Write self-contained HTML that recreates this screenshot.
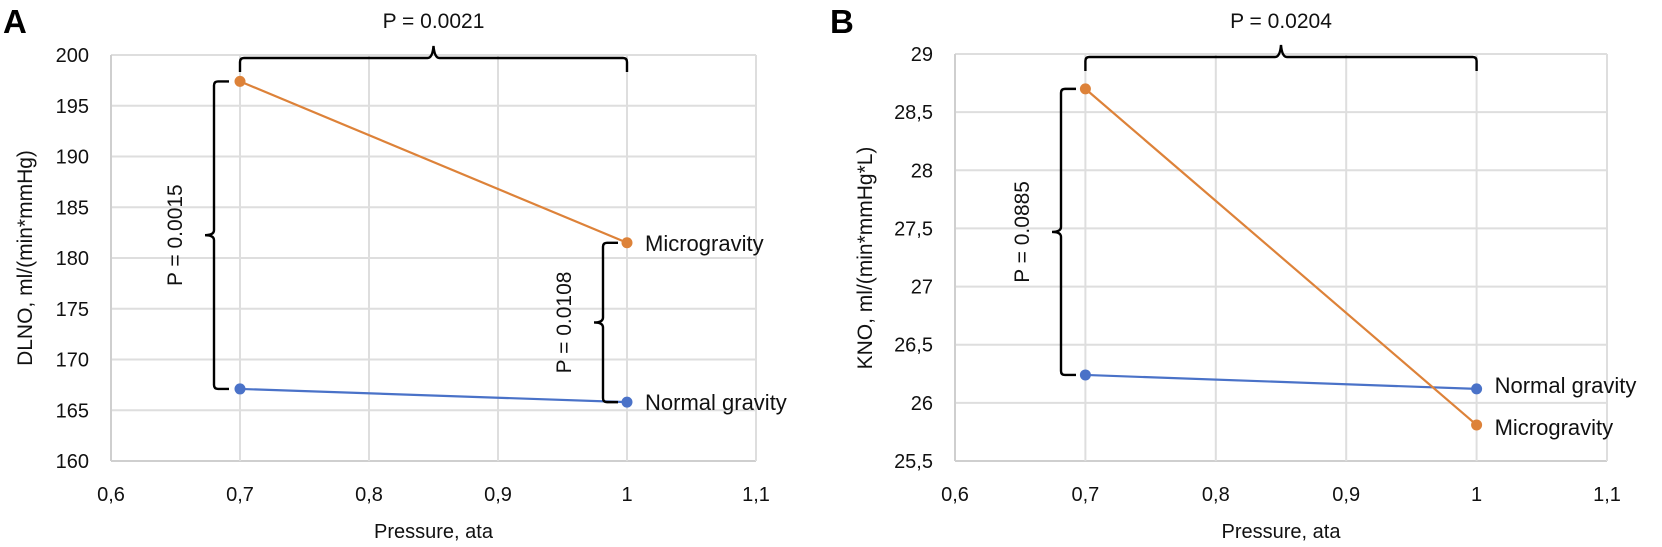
<!DOCTYPE html>
<html><head><meta charset="utf-8"><style>
html,body{margin:0;padding:0;background:#fff;}
svg{display:block;font-family:"Liberation Sans",sans-serif;}
</style></head><body>
<svg id="chart" width="1662" height="547" viewBox="0 0 1662 547" xmlns="http://www.w3.org/2000/svg">
<text x="3" y="33" font-size="33" font-weight="bold">A</text>
<text x="830" y="33" font-size="33" font-weight="bold">B</text>
<g id="pa"></g>
<g id="pb"></g>
</svg>
<script>
const xTicks = [0.6, 0.7, 0.8, 0.9, 1.0, 1.1];
const xTickLabels = ["0,6", "0,7", "0,8", "0,9", "1", "1,1"];
const pressures = [0.7, 1.0];
const aYTicks = [160, 165, 170, 175, 180, 185, 190, 195, 200];
const aYTickLabels = ["160", "165", "170", "175", "180", "185", "190", "195", "200"];
const aMicro = [197.4, 181.5];
const aNormal = [167.1, 165.8];
const bYTicks = [25.5, 26, 26.5, 27, 27.5, 28, 28.5, 29];
const bYTickLabels = ["25,5", "26", "26,5", "27", "27,5", "28", "28,5", "29"];
const bMicro = [28.70, 25.81];
const bNormal = [26.24, 26.12];

const NS = "http://www.w3.org/2000/svg";
function mk(parent, tag, attrs, text) {
  const e = document.createElementNS(NS, tag);
  for (const k in attrs) e.setAttribute(k, attrs[k]);
  if (text !== undefined) e.textContent = text;
  parent.appendChild(e);
  return e;
}
const ORANGE = "#dd8239", BLUE = "#4a72c8";

function panel(g, cfg) {
  const sx = v => cfg.left + (v - 0.6) / 0.5 * (cfg.right - cfg.left);
  const y0 = cfg.yTicks[0], y1 = cfg.yTicks[cfg.yTicks.length - 1];
  const sy = v => cfg.bottom - (v - y0) / (y1 - y0) * (cfg.bottom - cfg.top);
  cfg.yTicks.forEach((t, i) => {
    const l = mk(g, "line", {x1: cfg.left, x2: cfg.right, y1: sy(t), y2: sy(t), stroke: i === 0 ? "#cfcfcf" : "#dedede", "stroke-width": 2});
    
    
    const tx = mk(g, "text", {x: cfg.left - 22, y: sy(t) + 7, "font-size": 20, "text-anchor": "end", fill: "#111"}, cfg.yLabels[i]);
    
    
  });
  xTicks.forEach((t, i) => {
    if (i > 0) {
      const l = mk(g, "line", {x1: sx(t), x2: sx(t), y1: cfg.top, y2: cfg.bottom, stroke: "#dedede", "stroke-width": 2});
      
      
    }
    const tx = mk(g, "text", {x: sx(t), y: 501, "font-size": 20, "text-anchor": "middle", fill: "#111"}, xTickLabels[i]);
    
    
  });
  const la = mk(g, "line", {x1: cfg.left, x2: cfg.left, y1: cfg.top, y2: cfg.bottom, stroke: "#cfcfcf", "stroke-width": 2});
  
  
  const xt = mk(g, "text", {x: (cfg.left + cfg.right) / 2, y: 538, "font-size": 20, "text-anchor": "middle", fill: "#111"}, "Pressure, ata");
  
  
  const yt = mk(g, "text", {x: 0, y: 0, "font-size": 21, "text-anchor": "middle", fill: "#111", transform: `translate(${cfg.yTitleX},258) rotate(-90)`}, cfg.yTitle);
  
  
  [[cfg.normal, BLUE, "normal-gravity"], [cfg.micro, ORANGE, "microgravity"]].forEach(([vals, col, nm]) => {
    const pts = vals.map((v, i) => sx(pressures[i]) + "," + sy(v)).join(" ");
    const pl = mk(g, "polyline", {points: pts, fill: "none", stroke: col, "stroke-width": 2.2});
    
    
    vals.forEach((v, i) => {
      const c = mk(g, "circle", {cx: sx(pressures[i]), cy: sy(v), r: 5.5, fill: col});
      
      
    });
  });
  const lm = mk(g, "text", {x: sx(1) + 18, y: sy(cfg.micro[1]) + cfg.microDy, "font-size": 22, fill: "#111"}, "Microgravity");
  
  
  const ln = mk(g, "text", {x: sx(1) + 18, y: sy(cfg.normal[1]) + cfg.normalDy, "font-size": 22, fill: "#111"}, "Normal gravity");
  
  
  // top bracket
  const xa = sx(0.7), xb = sx(1), xm = (xa + xb) / 2, hy = cfg.top + 3;
  const tb = mk(g, "path", {d: `M${xa},${hy + 14} L${xa},${hy + 4} Q${xa},${hy} ${xa + 4},${hy} L${xm - 6},${hy} Q${xm - 1},${hy} ${xm},${hy - 12} Q${xm + 1},${hy} ${xm + 6},${hy} L${xb - 4},${hy} Q${xb},${hy} ${xb},${hy + 4} L${xb},${hy + 14}`, fill: "none", stroke: "#000", "stroke-width": 2.4});
  
  
  const tp = mk(g, "text", {x: xm, y: 28, "font-size": 21, "text-anchor": "middle", fill: "#111"}, cfg.pTop);
  
  
  // vertical brackets
  cfg.vbr.forEach(b => {
    const ya = sy(b.v1), yb = sy(b.v2), ym = (ya + yb) / 2, x = b.x;
    const p = mk(g, "path", {d: `M${x + 15},${ya} L${x + 4},${ya} Q${x},${ya} ${x},${ya + 4} L${x},${ym - 5} Q${x},${ym} ${x - 9},${ym} Q${x},${ym} ${x},${ym + 5} L${x},${yb - 4} Q${x},${yb} ${x + 4},${yb} L${x + 15},${yb}`, fill: "none", stroke: "#000", "stroke-width": 2.4});
    
    
    const t = mk(g, "text", {x: 0, y: 0, "font-size": 21, "text-anchor": "middle", fill: "#111", transform: `translate(${x - 32},${ym}) rotate(-90)`}, b.label);
    
    
  });
}

panel(document.getElementById("pa"), {
  left: 111, right: 756, top: 55, bottom: 461,
  yTicks: aYTicks, yLabels: aYTickLabels, micro: aMicro, normal: aNormal,
  yTitle: "DLNO, ml/(min*mmHg)", yTitleX: 32, microDy: 8, normalDy: 8,
  pTop: "P = 0.0021",
  vbr: [{x: 214, v1: aMicro[0], v2: aNormal[0], label: "P = 0.0015"},
        {x: 603, v1: aMicro[1], v2: aNormal[1], label: "P = 0.0108"}]
});
panel(document.getElementById("pb"), {
  left: 955, right: 1607, top: 54, bottom: 461,
  yTicks: bYTicks, yLabels: bYTickLabels, micro: bMicro, normal: bNormal,
  yTitle: "KNO, ml/(min*mmHg*L)", yTitleX: 872, microDy: 10, normalDy: 4,
  pTop: "P = 0.0204",
  vbr: [{x: 1061, v1: bMicro[0], v2: bNormal[0], label: "P = 0.0885"}]
});
</script>
</body></html>
